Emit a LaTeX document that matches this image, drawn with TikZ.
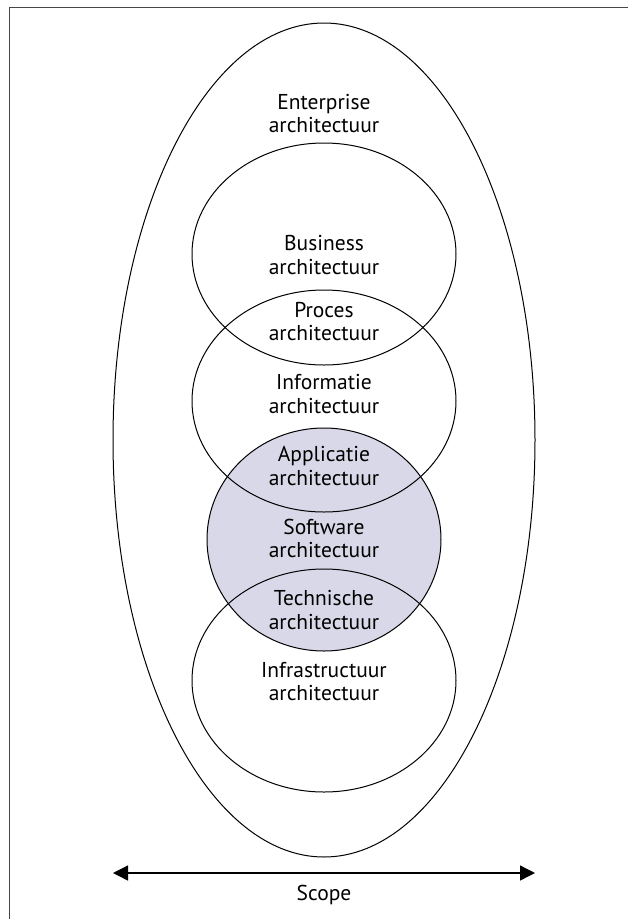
\documentclass[tikz,border=0pt]{standalone}
\usepackage{fontspec}
\setmainfont{PT Sans}
\usetikzlibrary{arrows.meta}
\definecolor{swfill}{RGB}{216,216,232}
\definecolor{framegray}{RGB}{70,70,70}
\begin{document}
\begin{tikzpicture}[x=1pt,y=-1pt,
  lbl/.style={align=center,font=\fontsize{21.5}{23.5}\selectfont,inner sep=0pt},
  ring/.style={draw=black,line width=1pt}]
\useasboundingbox (0,0) rectangle (627,919);
\draw[framegray,line width=1.6pt] (9.5,930) -- (9.5,7.5) -- (640,7.5);
% centres
\coordinate (cout) at (324,440);
\coordinate (cbus) at (324,254);
\coordinate (cinf) at (324,401);
\coordinate (csw)  at (324,539.5);
\coordinate (cinfra) at (324,680.5);
% shaded software circle
\fill[swfill] (csw) ellipse [x radius=117, y radius=111.5];
\draw[ring] (cout) ellipse [x radius=211, y radius=417];
\draw[ring] (cbus) ellipse [x radius=132, y radius=111];
\draw[ring] (cinf) ellipse [x radius=132, y radius=111];
\draw[ring] (csw) ellipse [x radius=117, y radius=111.5];
\draw[ring] (cinfra) ellipse [x radius=132, y radius=111.5];
% labels
\node[lbl] (ent) at (324,113.5) {Enterprise\\architectuur};
\node[lbl] (bus) at (324,255) {Business\\architectuur};
\node[lbl] (pro) at (324,321.5) {Proces\\architectuur};
\node[lbl] (inf) at (324,394) {Informatie\\architectuur};
\node[lbl] (app) at (324,466) {Applicatie\\architectuur};
\node[lbl] (sw) at (324,538.5) {Software\\architectuur};
\node[lbl] (tec) at (324,610) {Technische\\architectuur};
\node[lbl] (infra) at (324,681.5) {Infrastructuur\\architectuur};
% scope arrow
\coordinate (sl) at (113,873);
\coordinate (sr) at (535,873);
\draw[line width=1.3pt,{Triangle[length=15pt,width=15pt]}-{Triangle[length=15pt,width=15pt]}] (sl) -- (sr);
\node[lbl] (scope) at (324,895) {Scope};
\end{tikzpicture}
\end{document}
